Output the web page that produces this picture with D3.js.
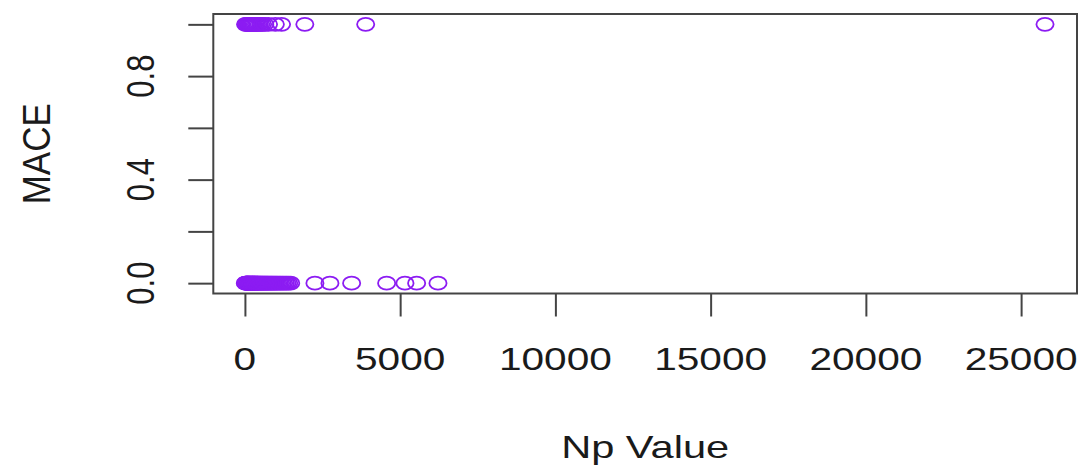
<!DOCTYPE html>
<html>
<head>
<meta charset="utf-8">
<script src="https://cdn.jsdelivr.net/npm/d3@7"></script>
<style>
  html, body { margin: 0; padding: 0; background: #fff; }
  svg { display: block; }
  text { font-family: "Liberation Sans", Arial, Helvetica, sans-serif; fill: #1a1a1a; }
</style>
</head>
<body>
<svg id="chart" width="1086" height="470"></svg>
<script>
// Np values for patients without an event (MACE = 0)
const npNoEvent = [12, 25, 38, 45, 58, 66, 74, 85, 93, 104, 115, 122, 136, 148, 157, 169, 180, 194,
  205, 218, 231, 246, 259, 272, 288, 301, 317, 335, 352, 368, 386, 405, 421, 440, 462, 485, 503,
  528, 551, 576, 602, 630, 655, 683, 712, 740, 771, 805, 838, 870, 905, 942, 980, 1018, 1060,
  1105, 1150, 1198, 1247, 1300, 1352, 1410, 1475, 2255, 2738, 3437, 4565, 5155, 5531, 6218];
// Np values for patients with an event (MACE = 1)
const npEvent = [20, 48, 75, 102, 130, 158, 190, 222, 255, 290, 330, 372, 415, 460, 512, 570,
  640, 760, 980, 1180, 1930, 3890, 25770];

const xTicks = [0, 5000, 10000, 15000, 20000, 25000];
const yTicks = [0, 0.2, 0.4, 0.6, 0.8, 1.0];
const yTickLabels = ["0.0", "", "0.4", "", "0.8", ""];

const points = [
  ...npNoEvent.map(v => ({ x: v, y: 0 })),
  ...npEvent.map(v => ({ x: v, y: 1 }))
];

const box = { left: 213.3, right: 1077, top: 14, bottom: 293.5 };
const axisColor = "#444";
const pointColor = "#8c1cf2";

// base-graphics style 4% padding around the data range
const [xmin, xmax] = d3.extent(points, d => d.x);
const xpad = (xmax - xmin) * 0.04;
const x = d3.scaleLinear().domain([xmin - xpad, xmax + xpad]).range([box.left, box.right]);
const y = d3.scaleLinear().domain([-0.04, 1.04]).range([box.bottom, box.top]);

const svg = d3.select("#chart");

// points
svg.append("g")
  .selectAll("ellipse")
  .data(points)
  .join("ellipse")
  .attr("cx", d => x(d.x))
  .attr("cy", d => y(d.y))
  .attr("rx", 8.6)
  .attr("ry", 6.5)
  .attr("fill", "none")
  .attr("stroke", pointColor)
  .attr("stroke-width", 1.8);

// plot frame
svg.append("rect")
  .attr("x", box.left).attr("y", box.top)
  .attr("width", box.right - box.left).attr("height", box.bottom - box.top)
  .attr("fill", "none").attr("stroke", axisColor).attr("stroke-width", 2);

// x axis
const xAxis = d3.axisBottom(x).tickValues(xTicks).tickSize(23).tickFormat("");
const gx = svg.append("g").attr("transform", `translate(0,${box.bottom})`).call(xAxis);
gx.select(".domain").remove();
gx.selectAll(".tick line").attr("stroke", axisColor).attr("stroke-width", 2);

svg.append("g").selectAll("text")
  .data(xTicks)
  .join("text")
  .attr("transform", d => `translate(${x(d)},370) scale(1.27,1)`)
  .attr("text-anchor", "middle")
  .attr("font-size", 32)
  .text(d => d3.format("d")(d));

// y axis
const yAxis = d3.axisLeft(y).tickValues(yTicks).tickSize(25).tickFormat("");
const gy = svg.append("g").attr("transform", `translate(${box.left},0)`).call(yAxis);
gy.select(".domain").remove();
gy.selectAll(".tick line").attr("stroke", axisColor).attr("stroke-width", 2);

svg.append("g").selectAll("text")
  .data(yTicks.map((v, i) => ({ v, label: yTickLabels[i] })).filter(d => d.label))
  .join("text")
  .attr("transform", d => `translate(153.5,${y(d.v)}) rotate(-90) scale(1,1.25)`)
  .attr("text-anchor", "middle")
  .attr("font-size", 31)
  .text(d => d.label);

// axis titles
svg.append("text")
  .attr("transform", `translate(${(box.left + box.right) / 2},458) scale(1.3,1)`)
  .attr("text-anchor", "middle")
  .attr("font-size", 32)
  .text("Np Value");

svg.append("text")
  .attr("transform", `translate(50,${(box.top + box.bottom) / 2}) rotate(-90) scale(1,1.12)`)
  .attr("text-anchor", "middle")
  .attr("font-size", 35)
  .text("MACE");
</script>
</body>
</html>
